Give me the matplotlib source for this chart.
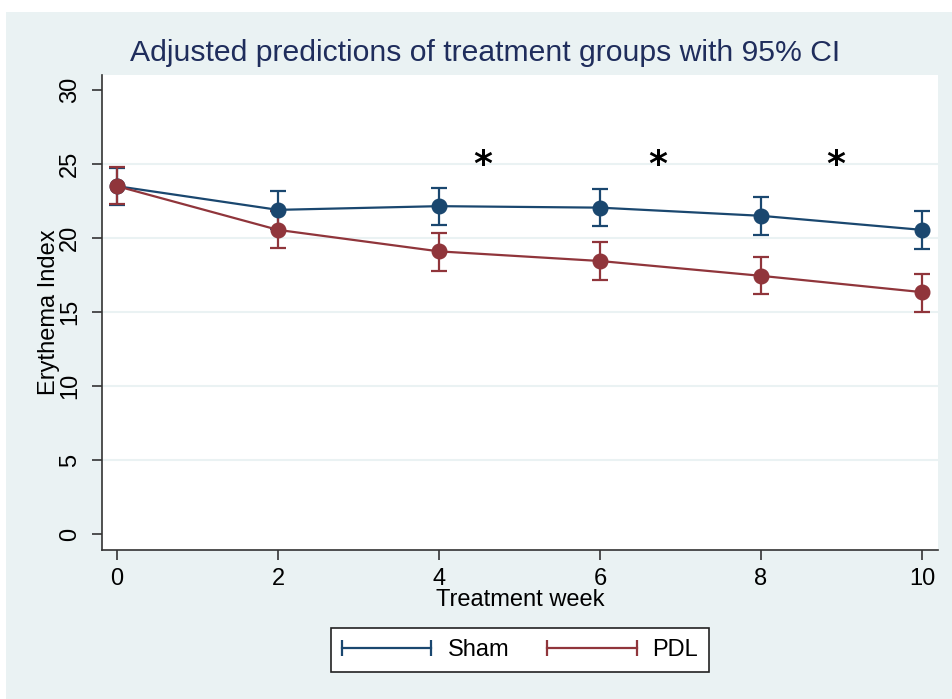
import matplotlib
matplotlib.use("Agg")
import matplotlib.pyplot as plt
from matplotlib.lines import Line2D
from matplotlib.patches import Rectangle
from matplotlib.legend_handler import HandlerLine2D

plt.rcParams['font.family'] = ['Liberation Sans', 'DejaVu Sans']

weeks = [0, 2, 4, 6, 8, 10]
sham_mean = [23.5, 21.9, 22.15, 22.05, 21.5, 20.55]
sham_lo = [22.25, 20.6, 20.9, 20.8, 20.2, 19.25]
sham_hi = [24.75, 23.2, 23.4, 23.3, 22.75, 21.85]
pdl_mean = [23.5, 20.55, 19.1, 18.45, 17.45, 16.35]
pdl_lo = [22.3, 19.3, 17.8, 17.2, 16.2, 15.0]
pdl_hi = [24.8, 21.8, 20.35, 19.7, 18.7, 17.6]
star_x = [4.55, 6.72, 8.93]
star_y = [24.95, 24.95, 24.95]
yticks = [0, 5, 10, 15, 20, 25, 30]
xticks = [0, 2, 4, 6, 8, 10]

SHAM_C = '#1a476f'
PDL_C = '#90353b'
BG = '#eaf2f3'

fig = plt.figure(figsize=(9.52, 6.99), dpi=100)
fig.patch.set_facecolor('white')
fig.patches.append(Rectangle((6/952, 0), 1 - 6/952, 1 - 12/699, transform=fig.transFigure,
                             facecolor=BG, edgecolor='none', zorder=-10))

ax = fig.add_axes([102/952, 1 - 550/699, (938 - 102)/952, (550 - 75)/699])
ax.set_facecolor('white')

for y in yticks[1:-1]:
    ax.axhline(y, color=BG, lw=1.5, zorder=0)

def draw(mean, lo, hi, c):
    yerr = [[m - l for m, l in zip(mean, lo)], [h - m for m, h in zip(mean, hi)]]
    ax.errorbar(weeks, mean, yerr=yerr, color=c, ecolor=c, lw=1.6, elinewidth=1.6,
                capsize=5.5, capthick=1.6, marker='o', markersize=10.5, zorder=3)

draw(sham_mean, sham_lo, sham_hi, SHAM_C)
draw(pdl_mean, pdl_lo, pdl_hi, PDL_C)

for sx, sy in zip(star_x, star_y):
    ax.text(sx, sy, '*', ha='center', va='center', fontsize=26, fontweight='bold',
            color='black', family=['DejaVu Sans'])

ax.set_xlim(-0.186, 10.2)
ax.set_ylim(-1.05, 31.0)
ax.set_xticks(xticks)
ax.set_yticks(yticks)
ax.set_yticklabels([str(v) for v in yticks], rotation=90, va='center')
ax.tick_params(axis='both', labelsize=17, length=7, width=1.2, color='#333333', pad=6)
ax.tick_params(axis='y', pad=8)
for s in ['top', 'right']:
    ax.spines[s].set_visible(False)
for s in ['left', 'bottom']:
    ax.spines[s].set_color('#333333')
    ax.spines[s].set_linewidth(1.2)

ax.set_xlabel('Treatment week', fontsize=17, labelpad=-1)
ax.set_ylabel('Erythema Index', fontsize=17)
ax.yaxis.set_label_coords(-0.050, 0.5)

fig.text(485/952, 1 - 53/699, 'Adjusted predictions of treatment groups with 95% CI',
         ha='center', va='center', fontsize=21.7, color='#1f2d5c')

handles = [Line2D([], [], color=SHAM_C, lw=1.6, marker='|', markersize=11, markeredgewidth=1.6),
           Line2D([], [], color=PDL_C, lw=1.6, marker='|', markersize=11, markeredgewidth=1.6)]
leg = fig.legend(handles, ['Sham', 'PDL'], loc='center', bbox_to_anchor=(520/952, 1 - 650/699),
                 ncol=2, numpoints=2, fontsize=17, handlelength=3.8, handletextpad=0.68,
                 columnspacing=1.6, fancybox=False, framealpha=1, edgecolor='#222222',
                 borderpad=0.45,
                 handler_map={Line2D: HandlerLine2D(marker_pad=0, numpoints=2)})
leg.get_frame().set_linewidth(1.2)

fig.savefig('out.png', dpi=100, facecolor=fig.get_facecolor())
